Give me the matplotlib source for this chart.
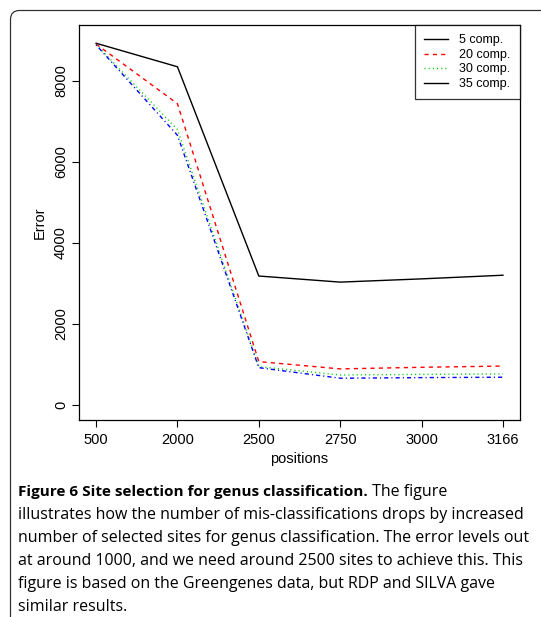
import matplotlib
matplotlib.use('Agg')
import matplotlib.pyplot as plt
from matplotlib.lines import Line2D
from matplotlib.patches import FancyBboxPatch

plt.rcParams['font.family'] = ['Liberation Sans', 'DejaVu Sans']

# число выбранных позиций (по оси x идут как категории)
positions = ['500', '2000', '2500', '2750', '3000', '3166']

# ошибка классификации для разного числа компонент
err_5 = [8920, 8340, 3180, 3030, 3110, 3200]
err_20 = [8900, 7430, 1070, 890, 930, 960]
err_30 = [8890, 6790, 945, 740, 755, 765]
err_35 = [8880, 6650, 920, 660, 675, 685]

labels = ['5 comp.', '20 comp.', '30 comp.', '35 comp.']

caption_bold = 'Figure 6 Site selection for genus classification.'
caption_lines = [
    ' The figure',
    'illustrates how the number of mis-classifications drops by increased',
    'number of selected sites for genus classification. The error levels out',
    'at around 1000, and we need around 2500 sites to achieve this. This',
    'figure is based on the Greengenes data, but RDP and SILVA gave',
    'similar results.',
]

W, H = 541, 617
fig = plt.figure(figsize=(W / 100, H / 100), dpi=100)

# рамка вокруг рисунка с подписью
frame = fig.add_axes([0, 0, 1, 1])
frame.set_xlim(0, W)
frame.set_ylim(H, 0)
frame.axis('off')
frame.add_patch(FancyBboxPatch((10.5, 10.5), 700, 700,
                               boxstyle='round,pad=0,rounding_size=9',
                               fill=False, edgecolor='#333333', lw=0.9))

ax = fig.add_axes([79 / W, 1 - 420 / H, (520 - 79) / W, (420 - 25) / H])
x = list(range(len(positions)))

ax.plot(x, err_5, color='black', lw=1.0, linestyle='-')
ax.plot(x, err_20, color='#ff0000', lw=1.0, linestyle=(0, (3, 3)))
ax.plot(x, err_30, color='#00cd00', lw=1.0, linestyle=(0, (0.8, 2.2)))
ax.plot(x, err_35, color='#0000ff', lw=1.0, linestyle=(0, (0.8, 2.2, 3, 2.2)))

ax.set_xlim(-0.21, 5.21)
ax.set_ylim(-370, 9370)
ax.set_xticks(x)
ax.set_xticklabels(positions)
ax.set_yticks([0, 2000, 4000, 6000, 8000])
ax.set_yticklabels(['0', '2000', '4000', '6000', '8000'], rotation=90, va='center')
ax.tick_params(labelsize=10.5, length=5, width=0.8)
ax.tick_params(axis='y', pad=3)
ax.tick_params(axis='x', pad=4)
for s in ax.spines.values():
    s.set_linewidth(0.9)

ax.set_xlabel('positions', fontsize=10.5, labelpad=4)
ax.set_ylabel('Error', fontsize=10.5, labelpad=5)

# в легенде у 35 comp. стоит сплошная черная линия
handles = [
    Line2D([], [], color='black', lw=1.0),
    Line2D([], [], color='#ff0000', lw=1.0, linestyle=(0, (3, 3))),
    Line2D([], [], color='#00cd00', lw=1.0, linestyle=(0, (0.8, 2.2))),
    Line2D([], [], color='black', lw=1.0),
]
leg = ax.legend(handles, labels, loc='upper right', borderaxespad=0,
                fancybox=False, edgecolor='black', fontsize=9,
                handlelength=1.9, labelspacing=0.2, borderpad=0.75,
                handletextpad=0.9)
leg.get_frame().set_linewidth(0.9)

# подпись под графиком
cap_font = ['Open Sans', 'DejaVu Sans']
y0 = 492
t = fig.text(18 / W, 1 - y0 / H, caption_bold, fontsize=11,
             fontweight='bold', family=cap_font, va='center')
fig.canvas.draw()
bb = t.get_window_extent()
fig.text(bb.x1 / W, 1 - y0 / H, caption_lines[0], fontsize=11.5,
         family=cap_font, va='center')
for i, line in enumerate(caption_lines[1:], start=1):
    fig.text(18 / W, 1 - (y0 + 23 * i) / H, line, fontsize=11.5,
             family=cap_font, va='center')

fig.savefig('out.png', dpi=100)
